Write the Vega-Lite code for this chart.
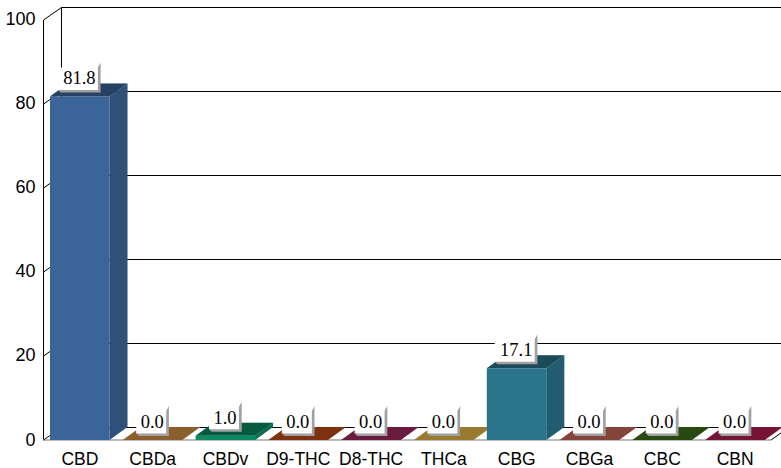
{"$schema":"https://vega.github.io/schema/vega-lite/v6.json","width":738,"height":440,"autosize":{"type":"none"},"padding":{"left":43,"top":0,"right":0,"bottom":28},"background":"white","config":{"view":{"stroke":null}},"resolve":{"axis":{"x":"independent","y":"independent"}},
"datasets":{"bars":[{"name":"CBD","value":81.8},{"name":"CBDa","value":0},{"name":"CBDv","value":1},{"name":"D9-THC","value":0},{"name":"D8-THC","value":0},{"name":"THCa","value":0},{"name":"CBG","value":17.1},{"name":"CBGa","value":0},{"name":"CBC","value":0},{"name":"CBN","value":0}],
"ticks":[{"tick":0},{"tick":20},{"tick":40},{"tick":60},{"tick":80},{"tick":100}]},
"layer":[
{"data":{"name":"ticks"},"transform":[{"calculate":"datum.tick+2.976","as":"by"},{"calculate":"0.2541","as":"bx"},{"calculate":"10.137","as":"ex"}],"mark":{"type":"rule","color":"#000","strokeWidth":1},
"encoding":{"x":{"field":"bx","type":"quantitative","scale":{"domain":[0,10.137],"nice":false,"zero":false},"axis":{"values":[0.5,1.5,2.5,3.5,4.5,5.5,6.5,7.5,8.5,9.5],"labelExpr":"['CBD','CBDa','CBDv','D9-THC','D8-THC','THCa','CBG','CBGa','CBC','CBN'][floor(datum.value)]","title":null,"grid":false,"domain":false,"ticks":false,"labelFont":"Liberation Sans","labelFontSize":17.5,"labelColor":"#000","labelPadding":10.5,"labelFlush":false,"labelOverlap":false,"labelAngle":0}},"x2":{"field":"ex"},
"y":{"field":"by","type":"quantitative","scale":{"domain":[0,104.76],"nice":false,"zero":false},"axis":{"values":[0,20,40,60,80,100],"title":null,"grid":false,"domain":false,"ticks":false,"labelFont":"Liberation Sans","labelFontSize":18,"labelColor":"#000","labelPadding":8,"labelFlush":false,"labelOverlap":false}}}},
{"data":{"name":"ticks"},"transform":[{"calculate":"[0,1]","as":"p"},{"flatten":["p"]},{"calculate":"0.0069+datum.p*0.2472","as":"dx"},{"calculate":"datum.tick+datum.p*2.976","as":"dy"}],"mark":{"type":"line","color":"#000","strokeWidth":1},"encoding":{"x":{"field":"dx","type":"quantitative","axis":null},"y":{"field":"dy","type":"quantitative","axis":null},"detail":{"field":"tick"}}},
{"data":{"values":[{"xa":0.0069,"ya":0,"yb":100},{"xa":0.2541,"ya":2.976,"yb":102.976}]},"mark":{"type":"rule","color":"#000","strokeWidth":1},"encoding":{"x":{"field":"xa","type":"quantitative","axis":null},"y":{"field":"ya","type":"quantitative","axis":null},"y2":{"field":"yb"}}},
{"data":{"values":[{"xa":0.2541,"xb":10.137,"ya":102.976}]},"mark":{"type":"rule","color":"#000","strokeWidth":1},"encoding":{"x":{"field":"xa","type":"quantitative","axis":null},"x2":{"field":"xb"},"y":{"field":"ya","type":"quantitative","axis":null}}},
{"data":{"values":[{"xa":10,"ya":0},{"xa":10.137,"ya":1.7}]},"mark":{"type":"line","color":"#000","strokeWidth":1},"encoding":{"x":{"field":"xa","type":"quantitative","axis":null},"y":{"field":"ya","type":"quantitative","axis":null}}},
{"data":{"values":[{"xa":0,"xb":10,"ya":0}]},"mark":{"type":"rule","color":"#777","strokeWidth":1.2},"encoding":{"x":{"field":"xa","type":"quantitative","axis":null},"x2":{"field":"xb"},"y":{"field":"ya","type":"quantitative","axis":null}}},
{"data":{"name":"bars"},"transform":[{"window":[{"op":"row_number","as":"n"}]},{"calculate":"[0,1]","as":"p"},{"flatten":["p"]},{"calculate":"datum.n-1+0.913+datum.p*0.2473","as":"sx"},{"calculate":"datum.p*3.095","as":"sy"},{"calculate":"datum.value+datum.p*3.095","as":"sy2"}],"mark":{"type":"area","orient":"vertical"},"encoding":{"x":{"field":"sx","type":"quantitative","axis":null},"y":{"field":"sy","type":"quantitative","axis":null},"y2":{"field":"sy2"},"detail":{"field":"name"},"color":{"field":"name","type":"nominal","legend":null,"sort":null,"scale":{"domain":["CBD","CBDa","CBDv","D9-THC","D8-THC","THCa","CBG","CBGa","CBC","CBN"],"range":["#3b6598","#d69148","#0a8a63","#c34a19","#a52862","#edbc4a","#2a748c","#cd6959","#3e7219","#b42052"]}}}},
{"data":{"name":"bars"},"transform":[{"window":[{"op":"row_number","as":"n"}]},{"calculate":"[0,1]","as":"p"},{"flatten":["p"]},{"calculate":"datum.n-1+0.913+datum.p*0.2473","as":"sx"},{"calculate":"datum.p*3.095","as":"sy"},{"calculate":"datum.value+datum.p*3.095","as":"sy2"}],"mark":{"type":"area","orient":"vertical","color":"#000","opacity":0.2},"encoding":{"x":{"field":"sx","type":"quantitative","axis":null},"y":{"field":"sy","type":"quantitative","axis":null},"y2":{"field":"sy2"},"detail":{"field":"name"}}},
{"data":{"name":"bars"},"transform":[{"window":[{"op":"row_number","as":"n"}]},{"calculate":"[0,1]","as":"p"},{"flatten":["p"]},{"calculate":"datum.n-1+0.096+datum.p*0.2473","as":"tx"},{"calculate":"datum.n-1+0.913+datum.p*0.2473","as":"tx2"},{"calculate":"datum.value+datum.p*3.095","as":"ty"}],"mark":{"type":"area","orient":"horizontal"},"encoding":{"x":{"field":"tx","type":"quantitative","axis":null},"x2":{"field":"tx2"},"y":{"field":"ty","type":"quantitative","axis":null},"detail":{"field":"name"},"color":{"field":"name","type":"nominal","legend":null,"sort":null}}},
{"data":{"name":"bars"},"transform":[{"window":[{"op":"row_number","as":"n"}]},{"calculate":"[0,1]","as":"p"},{"flatten":["p"]},{"calculate":"datum.n-1+0.096+datum.p*0.2473","as":"tx"},{"calculate":"datum.n-1+0.913+datum.p*0.2473","as":"tx2"},{"calculate":"datum.value+datum.p*3.095","as":"ty"}],"mark":{"type":"area","orient":"horizontal","color":"#000","opacity":0.35},"encoding":{"x":{"field":"tx","type":"quantitative","axis":null},"x2":{"field":"tx2"},"y":{"field":"ty","type":"quantitative","axis":null},"detail":{"field":"name"}}},
{"data":{"name":"bars"},"transform":[{"window":[{"op":"row_number","as":"n"}]},{"calculate":"datum.n-1+0.096","as":"fx"},{"calculate":"datum.n-1+0.913","as":"fx2"},{"calculate":"0","as":"fy"}],"mark":{"type":"rect"},"encoding":{"x":{"field":"fx","type":"quantitative","axis":null},"x2":{"field":"fx2"},"y":{"field":"value","type":"quantitative","axis":null},"y2":{"field":"fy"},"color":{"field":"name","type":"nominal","legend":null,"sort":null}}},
{"data":{"name":"bars"},"transform":[{"window":[{"op":"row_number","as":"n"}]},{"calculate":"datum.value>=10?-21.5:-16","as":"lp"},{"calculate":"datum.value>=10?18.5:14","as":"rp"},{"calculate":"[datum.lp,datum.lp+2.7,datum.rp,datum.rp+2.7]","as":"gx"},{"calculate":"[6.5,4,4,4]","as":"gy"},{"calculate":"[6.5,6.5,29,34]","as":"gy2"},{"flatten":["gx","gy","gy2"]},{"calculate":"datum.n-0.5+datum.gx/72.8","as":"px"},{"calculate":"datum.value+datum.gy/4.2","as":"py"},{"calculate":"datum.value+datum.gy2/4.2","as":"py2"}],"mark":{"type":"area","orient":"vertical","fill":"#a0a0a0","opacity":1},"encoding":{"x":{"field":"px","type":"quantitative","axis":null},"y":{"field":"py","type":"quantitative","axis":null},"y2":{"field":"py2"},"detail":{"field":"name"}}},
{"data":{"name":"bars"},"transform":[{"window":[{"op":"row_number","as":"n"}]},{"calculate":"datum.value>=10?-21.5:-16","as":"lp"},{"calculate":"datum.value>=10?18.5:14","as":"rp"},{"calculate":"datum.n-0.5+datum.lp/72.8","as":"wx"},{"calculate":"datum.n-0.5+datum.rp/72.8","as":"wx2"},{"calculate":"datum.value+6.5/4.2","as":"wy"},{"calculate":"datum.value+29/4.2","as":"wy2"}],"mark":{"type":"rect","color":"#fff"},"encoding":{"x":{"field":"wx","type":"quantitative","axis":null},"x2":{"field":"wx2"},"y":{"field":"wy","type":"quantitative","axis":null},"y2":{"field":"wy2"}}},
{"data":{"name":"bars"},"transform":[{"window":[{"op":"row_number","as":"n"}]},{"calculate":"datum.n-0.5","as":"cx"},{"calculate":"datum.value+18/4.2","as":"cy"}],"mark":{"type":"text","font":"Liberation Serif","fontSize":18.5,"color":"#000","baseline":"middle","align":"center"},"encoding":{"x":{"field":"cx","type":"quantitative","axis":null},"y":{"field":"cy","type":"quantitative","axis":null},"text":{"field":"value","type":"quantitative","format":".1f"}}}
]}
